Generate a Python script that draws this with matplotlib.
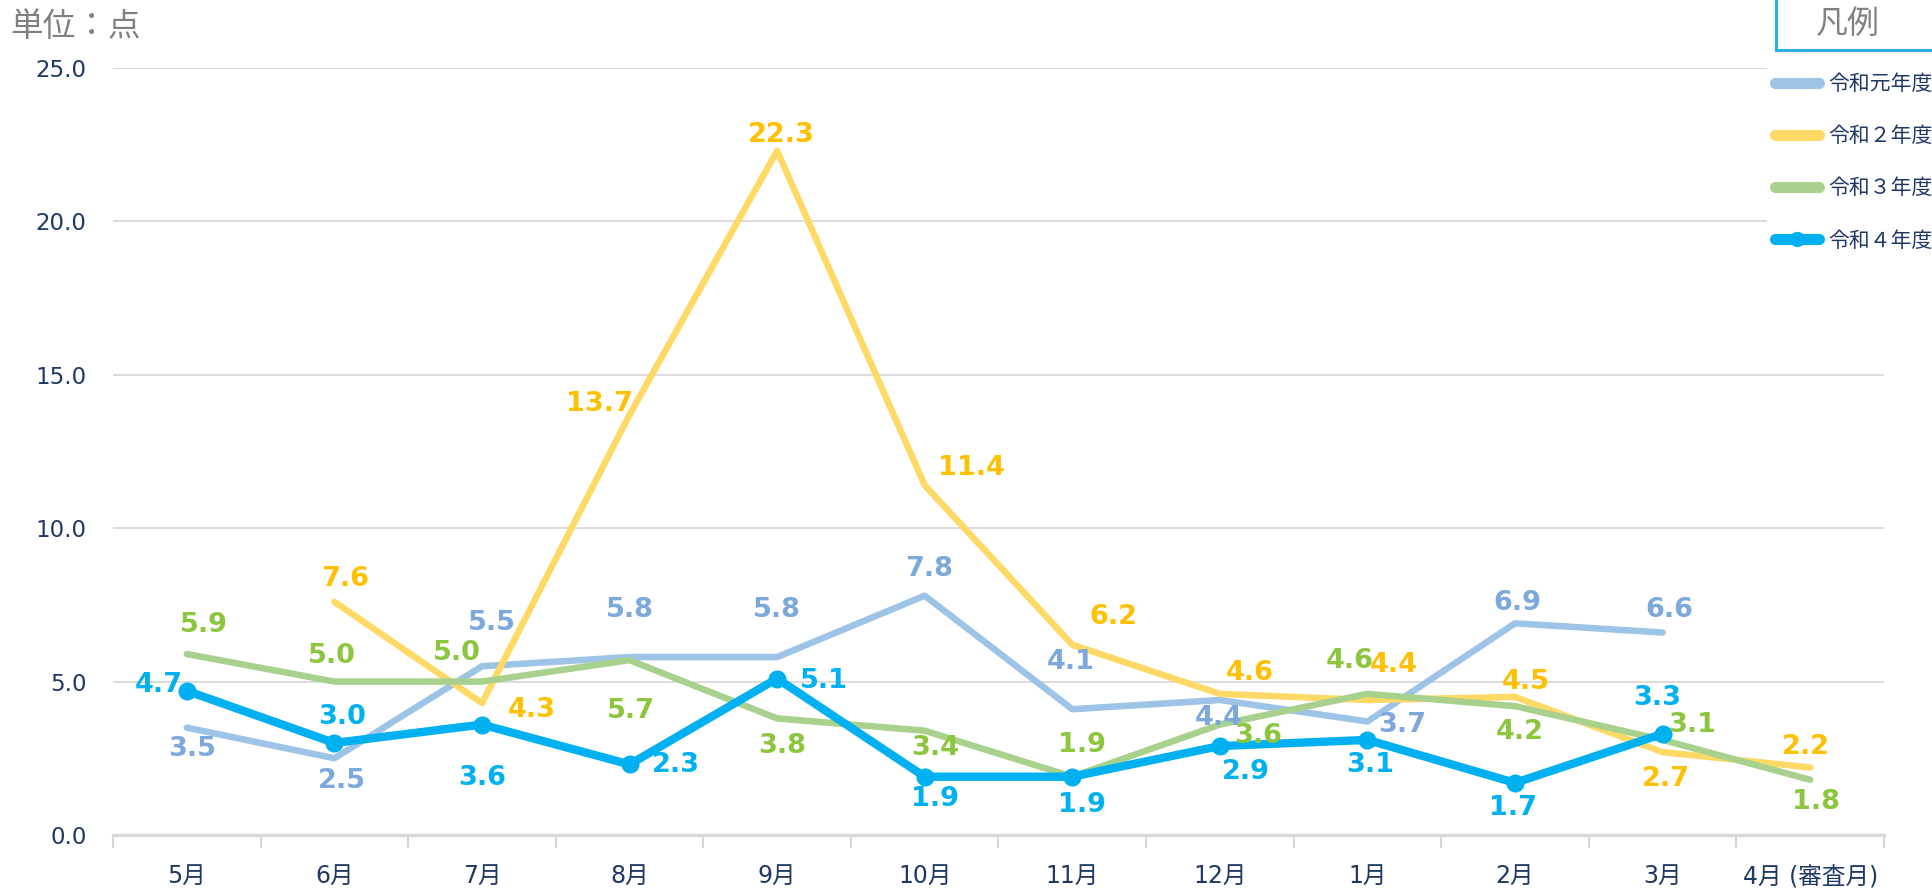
import matplotlib
matplotlib.use("Agg")
import matplotlib.pyplot as plt
from matplotlib.lines import Line2D
from matplotlib.patches import Rectangle
import numpy as np

plt.rcParams['font.family'] = ['DejaVu Sans', 'Noto Sans CJK JP']

months = ['5月', '6月', '7月', '8月', '9月', '10月', '11月', '12月', '1月', '2月', '3月', '4月 (審査月)']
yticks = [0, 5, 10, 15, 20, 25]

r1 = [3.5, 2.5, 5.5, 5.8, 5.8, 7.8, 4.1, 4.4, 3.7, 6.9, 6.6, None]
r2 = [None, 7.6, 4.3, 13.7, 22.3, 11.4, 6.2, 4.6, 4.4, 4.5, 2.7, 2.2]
r3 = [5.9, 5.0, 5.0, 5.7, 3.8, 3.4, 1.9, 3.6, 4.6, 4.2, 3.1, 1.8]
r4 = [4.7, 3.0, 3.6, 2.3, 5.1, 1.9, 1.9, 2.9, 3.1, 1.7, 3.3, None]

names = ['令和元年度', '令和２年度', '令和３年度', '令和４年度']

# label offsets in pixels (dx, dy), style only
off1 = [(5, -21), (8, -23), (10, 43), (0, 47), (0, 47), (4, 27), (-2, 47), (-1, -18), (35, -4), (2, 20), (7, 23), None]
off2 = [None, (11, 23), (50, -7), (-30, 11), (4, 16), (47, 17), (41, 28), (30, 21), (26, 35), (11, 15), (3, -27), (-4, 21)]
off3 = [(17, 29), (-2, 26), (-25, 29), (1, -51), (5, -28), (10, -17), (10, 32), (38, -11), (-18, 33), (5, -26), (30, 15), (6, -22)]
off4 = [(-28, 6), (8, 26), (0, -53), (46, -1), (47, -2), (10, -22), (10, -28), (26, -26), (3, -25), (-2, -25), (-5, 36), None]

W, H = 1933, 888
fig = plt.figure(figsize=(W / 100, H / 100), dpi=100)
ax = fig.add_axes([113 / W, 1 - 835 / H, (1884 - 113) / W, (835 - 68) / H])

x = np.arange(len(months))

def arr(v):
    return np.array([np.nan if a is None else a for a in v], dtype=float)

line_cols = ['#9DC3E6', '#FFD966', '#A9D18E', '#00B0F0']
lab_cols = ['#7CA8DC', '#FFC000', '#8CC63E', '#00B0F0']
series = [r1, r2, r3, r4]
offs = [off1, off2, off3, off4]
lws = [4.7, 4.7, 4.7, 6.0]

for k, (s, col) in enumerate(zip(series, line_cols)):
    y = arr(s)
    if k == 3:
        ax.plot(x, y, color=col, lw=lws[k], marker='o', ms=12, solid_capstyle='round',
                solid_joinstyle='round', zorder=5)
    else:
        ax.plot(x, y, color=col, lw=lws[k], solid_capstyle='round',
                solid_joinstyle='round', zorder=3 + k * 0.1)

for k, s in enumerate(series):
    for i, v in enumerate(s):
        if v is None:
            continue
        dx, dy = offs[k][i]
        ax.annotate(f'{v:.1f}', (x[i], v), xytext=(dx, dy), textcoords='offset pixels',
                    ha='center', va='center', fontsize=19.5, fontweight='bold',
                    family='DejaVu Sans', color=lab_cols[k], zorder=6)

ax.set_xlim(-0.5, len(months) - 0.5)
ax.set_ylim(0, 25)
ax.set_yticks(yticks)
ax.set_yticklabels([f'{t:.1f}' for t in yticks], family='DejaVu Sans')
ax.yaxis.grid(True, color='#D9D9D9', lw=1.3)
ax.set_axisbelow(True)
for sp in ['left', 'right', 'top']:
    ax.spines[sp].set_visible(False)
ax.spines['bottom'].set_color('#D9D9D9')
ax.spines['bottom'].set_linewidth(2.5)
ax.set_xticks(x)
ax.set_xticklabels(months)
ax.set_xticks(np.arange(-0.5, len(months), 1.0), minor=True)
ax.tick_params(axis='x', which='major', length=0, pad=21, labelsize=17, labelcolor='#1F3864')
ax.tick_params(axis='x', which='minor', length=9, width=1.2, color='#D0D0D0')
ax.tick_params(axis='y', length=0, pad=19, labelsize=16.5, labelcolor='#1F3864')

fig.text(10 / W, 1 - 27 / H, '単位：点', fontsize=23.5, color='#808080',
         family=['Noto Sans CJK JP'], ha='left', va='center')

# white area under legend
fig.patches.append(Rectangle((1767 / W, 1 - 255 / H), (W - 1767) / W, 198 / H,
                             transform=fig.transFigure, facecolor='white', edgecolor='none', zorder=1))
# legend title box
fig.patches.append(Rectangle((1776 / W, 1 - 50 / H), 0.2, 0.2, transform=fig.transFigure,
                             facecolor='white', edgecolor='#2BAEE6', lw=2.2, zorder=2))
fig.text(1848 / W, 1 - 24 / H, '凡例', fontsize=23, color='#808080',
         family=['Noto Sans CJK JP'], ha='center', va='center', zorder=3)

handles = []
for k, col in enumerate(line_cols):
    if k == 3:
        handles.append(Line2D([], [], color=col, lw=8, marker='o', ms=10, solid_capstyle='round'))
    else:
        handles.append(Line2D([], [], color=col, lw=8, solid_capstyle='round'))
leg = fig.legend(handles, names, loc='upper left', bbox_to_anchor=(1775 / W, 1 - 73 / H),
                 frameon=False, borderpad=0, borderaxespad=0, handlelength=2.1,
                 handletextpad=0.45, labelspacing=1.45,
                 prop={'family': ['Noto Sans CJK JP'], 'size': 15})
for t in leg.get_texts():
    t.set_color('#1F3864')
leg.set_zorder(3)

fig.savefig('out.png', dpi=100)
